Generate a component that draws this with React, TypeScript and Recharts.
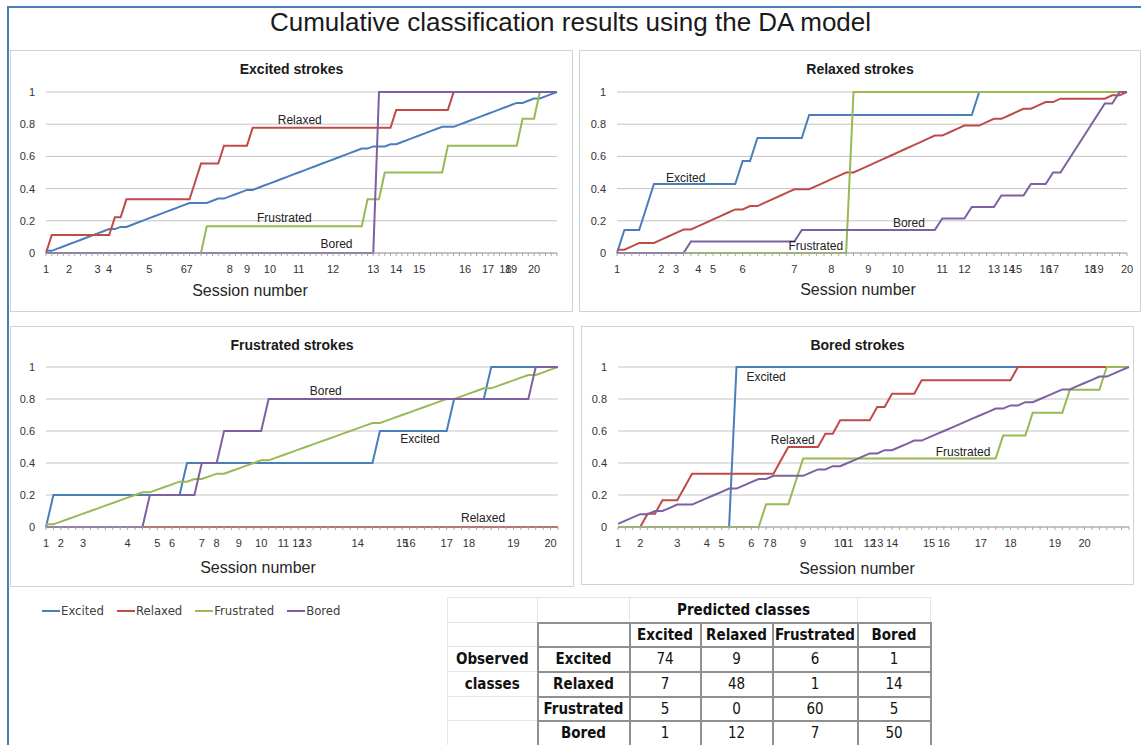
import { CartesianGrid, Line, LineChart, ReferenceDot, XAxis, YAxis } from "recharts";

const classes = ["Excited", "Relaxed", "Frustrated", "Bored"];
const colors = ["#4a7ebb", "#be4b48", "#98b954", "#7d60a0"];
const sessions = [1, 2, 3, 4, 5, 6, 7, 8, 9, 10, 11, 12, 13, 14, 15, 16, 17, 18, 19, 20];
const yTicks = [0, 0.2, 0.4, 0.6, 0.8, 1];

// Excited strokes: 90 strokes, indexes of strokes predicted as another class
const exCount = 90;
const exAsRelaxed = [1, 12, 14, 26, 27, 31, 36, 61, 71];
const exAsFrustrated = [28, 56, 59, 70, 83, 86];
const exAsBored = [58];
const exSessionStart = [0, 4, 9, 11, 18, 24, 25, 32, 35, 39, 44, 50, 57, 61, 65, 73, 77, 80, 81, 85];

// Relaxed strokes: 70
const rlCount = 70;
const rlAsExcited = [1, 4, 5, 17, 19, 26, 49];
const rlAsFrustrated = [32];
const rlAsBored = [10, 25, 44, 48, 52, 56, 59, 61, 62, 63, 64, 65, 66, 68];
const rlSessionStart = [0, 6, 8, 11, 13, 17, 24, 29, 34, 38, 44, 47, 51, 53, 54, 58, 59, 64, 65, 69];

// Frustrated strokes: 70
const frCount = 70;
const frAsExcited = [1, 19, 45, 55, 60];
const frAsRelaxed: number[] = [];
const frAsBored = [14, 21, 24, 30, 66];
const frSessionStart = [0, 2, 5, 11, 15, 17, 21, 23, 26, 29, 32, 34, 35, 42, 48, 49, 54, 57, 63, 68];

// Bored strokes: 70
const boCount = 70;
const boAsExcited = [16];
const boAsRelaxed = [4, 6, 9, 10, 22, 23, 28, 30, 35, 37, 41, 54];
const boAsFrustrated = [20, 24, 25, 52, 56, 61, 66];
const boSessionStart = [0, 3, 8, 12, 14, 18, 20, 21, 25, 30, 31, 34, 35, 37, 42, 44, 49, 53, 59, 63];

// confusion matrix (rows observed, cols predicted)
const excitedRow = [74, 9, 6, 1];
const relaxedRow = [7, 48, 1, 14];
const frustratedRow = [5, 0, 60, 5];
const boredRow = [1, 12, 7, 50];

const cumulative = (n: number, hits: number[]) => {
  const set = new Set(hits);
  let c = 0;
  return Array.from({ length: n }, (_, i) => {
    if (set.has(i)) c++;
    return hits.length ? c / hits.length : 0;
  });
};

const buildRows = (n: number, main: string, other: Record<string, number[]>) => {
  const taken = new Set(Object.values(other).flat());
  const mainHits: number[] = [];
  for (let i = 0; i < n; i++) if (!taken.has(i)) mainHits.push(i);
  const all: Record<string, number[]> = { ...other, [main]: mainHits };
  const series = classes.map((c) => cumulative(n, all[c] || []));
  return Array.from({ length: n }, (_, i) => {
    const row: any = { i };
    classes.forEach((c, k) => (row[c] = series[k][i]));
    return row;
  });
};

const font = '"Liberation Sans", Arial, sans-serif';
const narrow = '"Liberation Sans Narrow", "DejaVu Sans Condensed", "Liberation Sans", sans-serif';

const Panel = ({ box, plot, title, rows, n, starts, notes, axisX, axisY }: any) => {
  const yw = 30;
  const xh = 24;
  const margin = {
    left: plot.l - (box.x + 1) - yw,
    right: box.x + box.w - 1 - plot.r,
    top: plot.t - (box.y + 1),
    bottom: box.y + box.h - 1 - plot.b - xh,
  };
  const all = Array.from({ length: n }, (_, i) => i);
  const fmt = (v: number) => {
    const k = starts.indexOf(v);
    return k >= 0 ? String(sessions[k]) : "";
  };
  return (
    <>
      <div
        style={{
          position: "absolute",
          left: box.x,
          top: box.y,
          width: box.w,
          height: box.h,
          border: "1px solid #d2d2d2",
          boxSizing: "border-box",
          background: "#fff",
        }}
      >
        <div
          style={{
            position: "absolute",
            left: 0,
            width: "100%",
            top: 10,
            textAlign: "center",
            font: `bold 14px ${font}`,
            color: "#1a1a1a",
          }}
        >
          {title}
        </div>
        <div style={{ position: "absolute", left: 0, top: 0 }}>
          <LineChart width={box.w - 2} height={box.h - 2} data={rows} margin={margin}>
            <CartesianGrid vertical={false} stroke="#c4c4c4" />
            <XAxis
              type="number"
              dataKey="i"
              domain={[0, n - 1]}
              ticks={all}
              interval={0}
              tickFormatter={fmt}
              tickSize={3}
              tickMargin={9}
              height={xh}
              axisLine={{ stroke: "#a6a6a6" }}
              tickLine={{ stroke: "#a6a6a6" }}
              tick={{ fontSize: 11, fill: "#333", fontFamily: font }}
            />
            <YAxis
              type="number"
              domain={[0, 1]}
              ticks={yTicks}
              interval={0}
              width={yw}
              axisLine={false}
              tickLine={false}
              tickMargin={5}
              tick={{ fontSize: 11, fill: "#333", fontFamily: font }}
            />
            {classes.map((c, k) => (
              <Line
                key={c}
                type="linear"
                dataKey={c}
                stroke={colors[k]}
                strokeWidth={2}
                dot={false}
                isAnimationActive={false}
              />
            ))}
            {notes.map((nt: any) => (
              <ReferenceDot
                key={nt.text}
                x={nt.x}
                y={nt.y}
                r={0}
                fill="none"
                stroke="none"
                label={{ value: nt.text, position: "center", fontSize: 12, fill: "#222", fontFamily: font }}
              />
            ))}
          </LineChart>
        </div>
      </div>
      <div
        style={{
          position: "absolute",
          left: axisX - 100,
          width: 200,
          top: axisY - 10,
          textAlign: "center",
          font: `16px ${font}`,
          color: "#262626",
        }}
      >
        Session number
      </div>
    </>
  );
};

const colW = [90, 92, 71, 72, 85, 73];
const rowH = [25, 24, 25, 25, 24, 25];
const faint = "1px solid #e6e6e6";
const dark = "2px solid #8f8f8f";

const ConfusionTable = () => {
  const matrix = [excitedRow, relaxedRow, frustratedRow, boredRow];
  const cell = (border: string, h: number, bold = false): any => ({
    border,
    height: h,
    padding: 0,
    textAlign: "center",
    verticalAlign: "middle",
    fontWeight: bold ? "bold" : "normal",
    boxSizing: "border-box",
  });
  return (
    <table
      style={{
        position: "absolute",
        left: 447,
        top: 597,
        borderCollapse: "collapse",
        tableLayout: "fixed",
        width: colW.reduce((a, b) => a + b, 0),
        font: `15px ${narrow}`,
        color: "#111",
      }}
    >
      <colgroup>
        {colW.map((w, i) => (
          <col key={i} style={{ width: w }} />
        ))}
      </colgroup>
      <tbody>
        <tr>
          <td style={cell(faint, rowH[0])} />
          <td style={cell(faint, rowH[0])} />
          <td colSpan={3} style={cell(faint, rowH[0], true)}>
            Predicted classes
          </td>
          <td style={cell(faint, rowH[0])} />
        </tr>
        <tr>
          <td style={cell(faint, rowH[1])} />
          <td style={cell(dark, rowH[1])} />
          {classes.map((c) => (
            <td key={c} style={cell(dark, rowH[1], true)}>
              {c}
            </td>
          ))}
        </tr>
        {matrix.map((vals, r) => (
          <tr key={r}>
            <td style={cell(faint, rowH[r + 2], true)}>{r === 0 ? "Observed" : r === 1 ? "classes" : ""}</td>
            <td style={cell(dark, rowH[r + 2], true)}>{classes[r]}</td>
            {vals.map((v, k) => (
              <td key={k} style={cell(dark, rowH[r + 2])}>
                {v}
              </td>
            ))}
          </tr>
        ))}
      </tbody>
    </table>
  );
};

export default function App() {
  const exRows = buildRows(exCount, "Excited", { Relaxed: exAsRelaxed, Frustrated: exAsFrustrated, Bored: exAsBored });
  const rlRows = buildRows(rlCount, "Relaxed", { Excited: rlAsExcited, Frustrated: rlAsFrustrated, Bored: rlAsBored });
  const frRows = buildRows(frCount, "Frustrated", { Excited: frAsExcited, Relaxed: frAsRelaxed, Bored: frAsBored });
  const boRows = buildRows(boCount, "Bored", { Excited: boAsExcited, Relaxed: boAsRelaxed, Frustrated: boAsFrustrated });

  return (
    <div style={{ position: "absolute", left: 0, top: 0, width: 1141, height: 745, background: "#fff", overflow: "hidden" }}>
      <div
        style={{
          position: "absolute",
          left: 7,
          top: 6,
          width: 1150,
          height: 760,
          borderTop: "2px solid #4a7ebb",
          borderLeft: "2px solid #4a7ebb",
        }}
      />
      <div
        style={{
          position: "absolute",
          left: 0,
          width: 1141,
          top: 7,
          textAlign: "center",
          font: `26px ${font}`,
          color: "#1a1a1a",
        }}
      >
        Cumulative classification results using the DA model
      </div>

      <Panel
        box={{ x: 10, y: 50, w: 563, h: 262 }}
        plot={{ l: 46, r: 557, t: 92, b: 253 }}
        title="Excited strokes"
        rows={exRows}
        n={exCount}
        starts={exSessionStart}
        axisX={250}
        axisY={292}
        notes={[
          { text: "Relaxed", x: 44.2, y: 0.83 },
          { text: "Frustrated", x: 41.5, y: 0.22 },
          { text: "Bored", x: 50.6, y: 0.06 },
        ]}
      />
      <Panel
        box={{ x: 579, y: 50, w: 562, h: 262 }}
        plot={{ l: 617, r: 1127, t: 92, b: 253 }}
        title="Relaxed strokes"
        rows={rlRows}
        n={rlCount}
        starts={rlSessionStart}
        axisX={858}
        axisY={291}
        notes={[
          { text: "Excited", x: 9.3, y: 0.47 },
          { text: "Bored", x: 39.5, y: 0.19 },
          { text: "Frustrated", x: 26.9, y: 0.045 },
        ]}
      />
      <Panel
        box={{ x: 10, y: 326, w: 564, h: 261 }}
        plot={{ l: 46, r: 558, t: 367, b: 527 }}
        title="Frustrated strokes"
        rows={frRows}
        n={frCount}
        starts={frSessionStart}
        axisX={258}
        axisY={569}
        notes={[
          { text: "Bored", x: 37.7, y: 0.85 },
          { text: "Excited", x: 50.4, y: 0.55 },
          { text: "Relaxed", x: 58.9, y: 0.055 },
        ]}
      />
      <Panel
        box={{ x: 581, y: 326, w: 553, h: 259 }}
        plot={{ l: 618, r: 1129, t: 367, b: 527 }}
        title="Bored strokes"
        rows={boRows}
        n={boCount}
        starts={boSessionStart}
        axisX={857}
        axisY={570}
        notes={[
          { text: "Excited", x: 20.0, y: 0.94 },
          { text: "Relaxed", x: 23.6, y: 0.545 },
          { text: "Frustrated", x: 46.6, y: 0.47 },
        ]}
      />

      <div
        style={{
          position: "absolute",
          left: 42,
          top: 603,
          display: "flex",
          alignItems: "center",
          font: `13px ${narrow}`,
          color: "#404040",
        }}
      >
        {classes.map((c, k) => (
          <div key={c} style={{ display: "flex", alignItems: "center", marginRight: 13 }}>
            <span style={{ display: "inline-block", width: 18, height: 2, background: colors[k], marginRight: 1 }} />
            {c}
          </div>
        ))}
      </div>

      <ConfusionTable />
    </div>
  );
}
